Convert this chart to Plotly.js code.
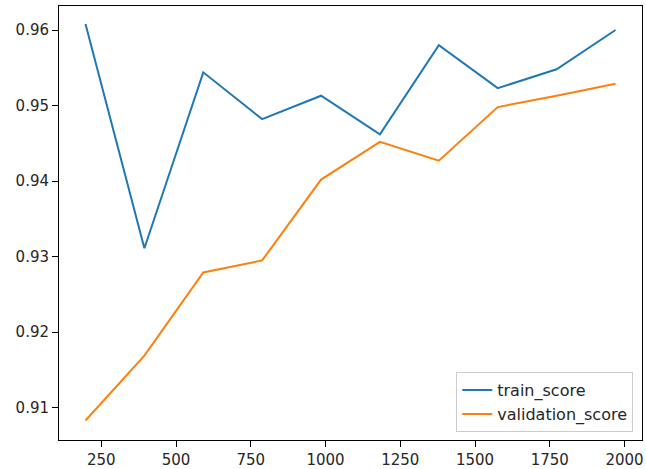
<!DOCTYPE html>
<html>
<head>
<meta charset="utf-8">
<script src="https://cdn.plot.ly/plotly-3.0.1.min.js"></script>
<style>html,body{margin:0;padding:0;background:#fff;}#chart{width:646px;height:469px;}</style>
</head>
<body>
<div id="chart"></div>
<script>
const trainSizes = [197, 394, 591, 788, 985, 1182, 1379, 1576, 1773, 1970];
const trainScore = [0.9608, 0.9311, 0.9544, 0.9482, 0.9513, 0.9462, 0.9580, 0.9523, 0.9548, 0.9600];
const validationScore = [0.9083, 0.9169, 0.9279, 0.9295, 0.9402, 0.9452, 0.9427, 0.9498, 0.9513, 0.9529];
const seriesNames = ["train_score", "validation_score"];
const xTicks = [250, 500, 750, 1000, 1250, 1500, 1750, 2000];
const yTicks = [0.91, 0.92, 0.93, 0.94, 0.95, 0.96];

const font = {family: "DejaVu Sans", size: 15, color: "#262626"};
const legendFont = {family: "DejaVu Sans", size: 16, color: "#262626"};
const data = [
  {x: trainSizes, y: trainScore, name: seriesNames[0], mode: "lines", line: {color: "#1f77b4", width: 2}},
  {x: trainSizes, y: validationScore, name: seriesNames[1], mode: "lines", line: {color: "#ff7f0e", width: 2}}
];
const layout = {
  width: 646, height: 469,
  margin: {l: 59, r: 4, t: 6, b: 29},
  paper_bgcolor: "#fff", plot_bgcolor: "#fff",
  font: font,
  showlegend: true,
  xaxis: {
    range: [108.35, 2058.65], tickvals: xTicks, ticktext: xTicks.map(String),
    showgrid: false, zeroline: false, showline: true, mirror: true,
    linecolor: "#000", linewidth: 1, ticks: "outside", ticklen: 6, tickcolor: "#000", tickwidth: 1,
    tickfont: font
  },
  yaxis: {
    range: [0.90572, 0.96318], tickvals: yTicks, ticktext: yTicks.map(v => v.toFixed(2)),
    showgrid: false, zeroline: false, showline: true, mirror: true,
    linecolor: "#000", linewidth: 1, ticks: "outside", ticklen: 6, tickcolor: "#000", tickwidth: 1,
    tickfont: font
  },
  legend: {
    x: 0.985, y: 0.018, xanchor: "right", yanchor: "bottom",
    bgcolor: "rgba(255,255,255,0.8)", bordercolor: "#cccccc", borderwidth: 1,
    font: legendFont, tracegroupgap: 0
  }
};
Plotly.newPlot("chart", data, layout, {displayModeBar: false, staticPlot: true});
</script>
</body>
</html>
